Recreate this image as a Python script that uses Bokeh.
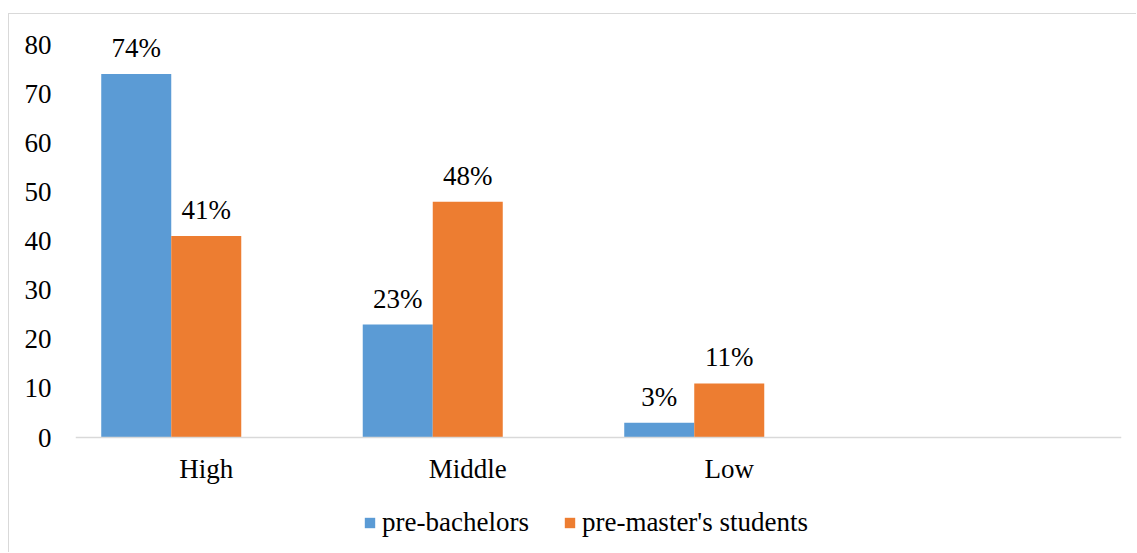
from bokeh.plotting import figure
from bokeh.models import ColumnDataSource, FactorRange, Legend, LegendItem, FixedTicker
from bokeh.transform import dodge
from bokeh.core.properties import value
from bokeh.embed import file_html
from bokeh.resources import INLINE

categories = ["High", "Middle", "Low"]
all_slots = ["High", "Middle", "Low", " "]
pre_bachelors = [74, 23, 3]
pre_masters = [41, 48, 11]
series_names = ["pre-bachelors", "pre-master's students"]
colors = ["#5B9BD5", "#ED7D31"]
y_ticks = [0, 10, 20, 30, 40, 50, 60, 70, 80]

FONT = "Liberation Serif"
FS = "27px"

src = ColumnDataSource(dict(
    cat=categories,
    b=pre_bachelors,
    m=pre_masters,
    bl=[f"{v}%" for v in pre_bachelors],
    ml=[f"{v}%" for v in pre_masters],
))

p = figure(x_range=FactorRange(*all_slots), y_range=(-23.0, 85.09),
           width=1128, height=539, output_backend="svg", toolbar_location=None,
           min_border_left=66, min_border_top=5, min_border_right=16, min_border_bottom=3)
p.styles = {"border-left": "1px solid #d9d9d9", "border-top": "1px solid #d9d9d9",
            "margin-top": "13px", "margin-left": "8px"}
p.outline_line_color = None
p.xgrid.grid_line_color = None
p.ygrid.grid_line_color = None

bw = 0.2677
r1 = p.vbar(x=dodge("cat", -bw, range=p.x_range), top="b", width=bw, source=src,
            fill_color=colors[0], line_color=None)
r2 = p.vbar(x=dodge("cat", 0, range=p.x_range), top="m", width=bw, source=src,
            fill_color=colors[1], line_color=None)

for col, lab, off in (("b", "bl", -bw), ("m", "ml", 0)):
    p.text(x=dodge("cat", off, range=p.x_range), y=col, text=lab, source=src,
           text_align="center", text_baseline="alphabetic", y_offset=-26,
           text_font=value(FONT), text_font_size=FS, text_color="#000000")

p.yaxis.ticker = FixedTicker(ticks=y_ticks)
p.yaxis.axis_line_color = None
p.yaxis.major_tick_line_color = None
p.yaxis.minor_tick_line_color = None
p.yaxis.major_label_text_font = FONT
p.yaxis.major_label_text_font_size = FS
p.yaxis.major_label_text_color = "#000000"
p.yaxis.major_label_standoff = 18

p.xaxis.fixed_location = 0
p.xaxis.axis_line_color = "#d9d9d9"
p.xaxis.axis_line_width = 1.5
p.xaxis.major_tick_line_color = None
p.xaxis.minor_tick_line_color = None
p.xaxis.major_label_text_font = FONT
p.xaxis.major_label_text_font_size = FS
p.xaxis.major_label_text_color = "#000000"
p.xaxis.major_label_standoff = 10

legend = Legend(items=[LegendItem(label=series_names[0], renderers=[r1]),
                       LegendItem(label=series_names[1], renderers=[r2])],
                orientation="horizontal", location=(288, 12),
                label_text_font=FONT, label_text_font_size=FS, label_text_color="#000000",
                glyph_width=13, glyph_height=13, spacing=34, label_standoff=6,
                border_line_color=None, background_fill_alpha=0, margin=0, padding=0)
p.add_layout(legend, "center")

open("out.html", "w").write(file_html(p, INLINE))
